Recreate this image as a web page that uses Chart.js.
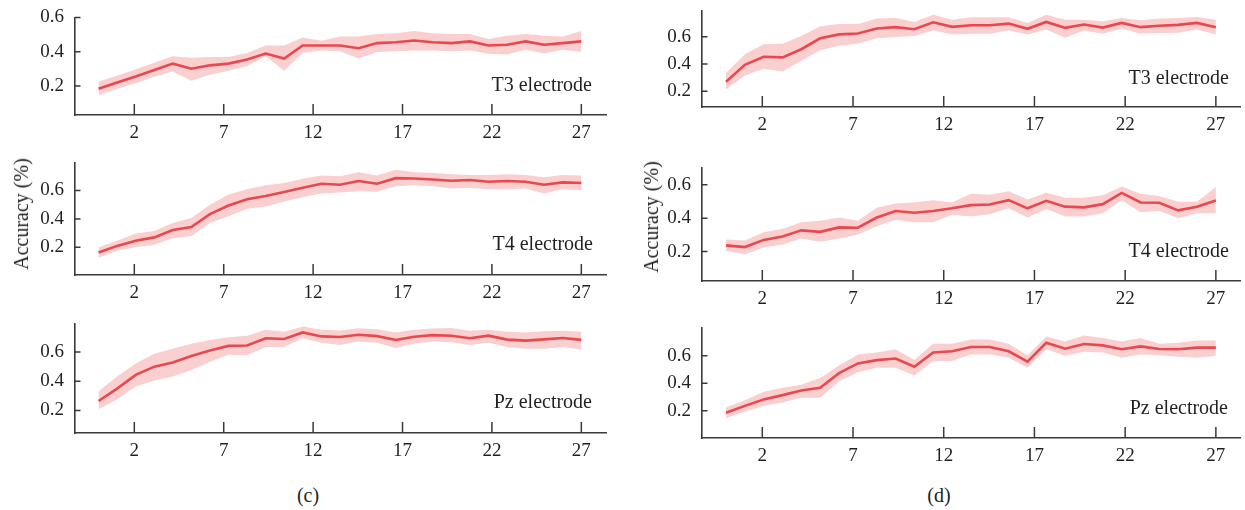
<!DOCTYPE html>
<html><head><meta charset="utf-8">
<script src="https://cdn.jsdelivr.net/npm/chart.js@4.4.1/dist/chart.umd.min.js"></script>
<style>
html,body{margin:0;padding:0;background:#fff;}
body{width:1245px;height:510px;position:relative;overflow:hidden;font-family:"Liberation Serif","Times New Roman",serif;color:#231f20;}
canvas{position:absolute;}
.lbl{position:absolute;font-size:20px;line-height:20px;white-space:nowrap;text-align:right;}
.cap{position:absolute;font-size:20px;line-height:20px;white-space:nowrap;transform:translateX(-50%);}
.ylab{position:absolute;font-size:20px;line-height:20px;white-space:nowrap;transform:translate(-50%,-50%) rotate(-90deg);}
</style></head><body>
<script>
// ---- data ----
const xTickValues = [2, 7, 12, 17, 22, 27];
const yTickValues = [0.2, 0.4, 0.6];
const epochX = [0, 1.04, 2.08, 3.12, 4.15, 5.19, 6.23, 7.27, 8.31, 9.35, 10.38, 11.42, 12.46, 13.5, 14.54, 15.58, 16.62, 17.65, 18.69, 19.73, 20.77, 21.81, 22.85, 23.88, 24.92, 25.96, 27];

const cT3Mean  = [0.183,0.22,0.255,0.293,0.33,0.30,0.32,0.33,0.354,0.389,0.36,0.436,0.436,0.436,0.42,0.45,0.455,0.465,0.455,0.45,0.46,0.436,0.44,0.46,0.44,0.45,0.46];
const cT3Upper = [0.225,0.259,0.297,0.335,0.373,0.364,0.368,0.368,0.392,0.436,0.436,0.482,0.463,0.488,0.488,0.503,0.507,0.52,0.507,0.503,0.503,0.474,0.493,0.503,0.493,0.488,0.52];
const cT3Lower = [0.145,0.183,0.215,0.253,0.284,0.23,0.265,0.288,0.316,0.373,0.288,0.392,0.406,0.402,0.36,0.398,0.402,0.406,0.406,0.402,0.406,0.387,0.383,0.411,0.389,0.411,0.398];

const cT4Mean  = [0.163,0.21,0.246,0.27,0.322,0.343,0.434,0.494,0.538,0.561,0.59,0.62,0.648,0.641,0.667,0.648,0.687,0.685,0.678,0.669,0.674,0.662,0.667,0.662,0.641,0.657,0.653];
const cT4Upper = [0.2,0.246,0.297,0.315,0.372,0.407,0.499,0.572,0.609,0.637,0.653,0.683,0.706,0.701,0.729,0.706,0.747,0.729,0.724,0.715,0.71,0.71,0.715,0.71,0.694,0.71,0.706];
const cT4Lower = [0.126,0.177,0.2,0.218,0.264,0.28,0.372,0.418,0.471,0.487,0.522,0.552,0.579,0.586,0.595,0.591,0.63,0.637,0.63,0.614,0.618,0.609,0.609,0.614,0.579,0.609,0.602];

const cPzMean  = [0.265,0.35,0.444,0.5,0.528,0.573,0.611,0.642,0.645,0.694,0.689,0.734,0.707,0.703,0.718,0.709,0.683,0.705,0.716,0.712,0.694,0.712,0.685,0.678,0.687,0.696,0.683];
const cPzUpper = [0.332,0.432,0.522,0.589,0.622,0.656,0.683,0.701,0.712,0.752,0.739,0.774,0.752,0.747,0.763,0.756,0.734,0.752,0.761,0.765,0.745,0.752,0.739,0.734,0.743,0.745,0.739];
const cPzLower = [0.209,0.276,0.365,0.406,0.432,0.477,0.533,0.582,0.578,0.634,0.634,0.694,0.663,0.649,0.672,0.663,0.627,0.656,0.672,0.667,0.649,0.663,0.634,0.622,0.622,0.634,0.618];

const dT3Mean  = [0.27,0.393,0.453,0.448,0.508,0.588,0.617,0.624,0.66,0.67,0.655,0.706,0.672,0.684,0.684,0.696,0.658,0.708,0.665,0.689,0.667,0.701,0.67,0.68,0.687,0.701,0.67];
const dT3Upper = [0.333,0.472,0.545,0.549,0.605,0.677,0.694,0.694,0.733,0.737,0.708,0.761,0.725,0.742,0.742,0.742,0.701,0.761,0.725,0.725,0.713,0.737,0.72,0.733,0.737,0.745,0.725];
const dT3Lower = [0.212,0.316,0.364,0.345,0.424,0.501,0.533,0.549,0.588,0.598,0.605,0.646,0.617,0.622,0.622,0.646,0.617,0.653,0.593,0.646,0.622,0.66,0.622,0.627,0.629,0.653,0.617];

const dT4Mean  = [0.237,0.227,0.27,0.29,0.327,0.318,0.345,0.343,0.404,0.443,0.433,0.443,0.459,0.478,0.482,0.508,0.459,0.504,0.469,0.465,0.484,0.551,0.494,0.492,0.447,0.469,0.506];
const dT4Upper = [0.273,0.267,0.316,0.337,0.376,0.384,0.404,0.384,0.463,0.488,0.494,0.508,0.494,0.547,0.541,0.561,0.512,0.553,0.522,0.522,0.537,0.59,0.547,0.533,0.498,0.498,0.586];
const dT4Lower = [0.204,0.184,0.224,0.243,0.278,0.259,0.278,0.302,0.351,0.39,0.376,0.376,0.42,0.41,0.424,0.459,0.404,0.455,0.41,0.41,0.429,0.508,0.435,0.443,0.4,0.429,0.429];

const dPzMean  = [0.186,0.236,0.283,0.314,0.348,0.367,0.474,0.545,0.569,0.581,0.521,0.624,0.633,0.664,0.664,0.633,0.557,0.695,0.652,0.686,0.676,0.648,0.669,0.65,0.648,0.66,0.66];
const dPzUpper = [0.224,0.276,0.338,0.367,0.39,0.438,0.529,0.61,0.624,0.648,0.569,0.688,0.688,0.719,0.719,0.688,0.605,0.74,0.705,0.748,0.729,0.705,0.729,0.688,0.695,0.712,0.712];
const dPzLower = [0.148,0.195,0.236,0.26,0.295,0.295,0.414,0.481,0.514,0.514,0.457,0.562,0.562,0.61,0.61,0.586,0.514,0.648,0.6,0.629,0.624,0.586,0.61,0.605,0.593,0.586,0.6];

// ---- styles / layout ----
const LINE = '#e9484e';
const BAND = 'rgba(242,122,126,0.36)';
const AXIS = '#3a3a3a';
const TXT = '#231f20';
const FONT = "'Liberation Serif','Times New Roman',serif";

const panels = [
  {mean:cT3Mean, up:cT3Upper, lo:cT3Lower, L:75, R:606, T:15, B:115, ymin:0.03, ymax:0.6, xmin:-1.317, xmax:28.38, label:'T3 electrode', lr:592, lt:74},
  {mean:cT4Mean, up:cT4Upper, lo:cT4Lower, L:75, R:606, T:160, B:275, ymin:0.005, ymax:0.798, xmin:-1.317, xmax:28.38, label:'T4 electrode', lr:593, lt:233},
  {mean:cPzMean, up:cPzUpper, lo:cPzLower, L:75, R:606, T:321, B:433, ymin:0.046, ymax:0.796, xmin:-1.317, xmax:28.38, label:'Pz electrode', lr:592, lt:391},
  {mean:dT3Mean, up:dT3Upper, lo:dT3Lower, L:702, R:1240, T:8, B:107, ymin:0.084, ymax:0.793, xmin:-1.324, xmax:28.33, label:'T3 electrode', lr:1229, lt:67},
  {mean:dT4Mean, up:dT4Upper, lo:dT4Lower, L:702, R:1240, T:165, B:281, ymin:0.024, ymax:0.704, xmin:-1.324, xmax:28.33, label:'T4 electrode', lr:1229, lt:240},
  {mean:dPzMean, up:dPzUpper, lo:dPzLower, L:702, R:1240, T:325, B:438, ymin:0.002, ymax:0.807, xmin:-1.324, xmax:28.33, label:'Pz electrode', lr:1228, lt:397}
];

const PADL = 70, PADT = 20, PADR = 10, PADB = 40;

const inwardTicks = {
  id: 'inwardTicks',
  afterDraw(chart) {
    const {ctx, chartArea: a, scales: {x, y}} = chart;
    ctx.save();
    ctx.strokeStyle = AXIS;
    ctx.lineWidth = 1.5;
    ctx.beginPath();
    x.ticks.forEach(t => {
      const px = x.getPixelForValue(t.value);
      ctx.moveTo(px, a.bottom); ctx.lineTo(px, a.bottom - 11);
    });
    y.ticks.forEach(t => {
      const py = y.getPixelForValue(t.value);
      ctx.moveTo(a.left, py); ctx.lineTo(a.left + 5.5, py);
    });
    ctx.stroke();
    ctx.restore();
  }
};

const pts = arr => arr.map((v, i) => ({x: epochX[i], y: v}));

panels.forEach(p => {
  const cv = document.createElement('canvas');
  const w = (p.R - p.L) + PADL + PADR;
  const h = (p.B - p.T) + PADT + PADB;
  cv.width = w; cv.height = h;
  cv.style.width = w + 'px'; cv.style.height = h + 'px';
  cv.style.left = (p.L - PADL) + 'px';
  cv.style.top = (p.T - PADT) + 'px';
  document.body.appendChild(cv);

  new Chart(cv.getContext('2d'), {
    type: 'line',
    data: {
      datasets: [
        {data: pts(p.mean), borderColor: LINE, borderWidth: 2.6, pointRadius: 0, tension: 0, fill: false, order: 0},
        {data: pts(p.lo), borderColor: 'rgba(0,0,0,0)', borderWidth: 0, pointRadius: 0, tension: 0, fill: false, order: 1},
        {data: pts(p.up), borderColor: 'rgba(0,0,0,0)', borderWidth: 0, pointRadius: 0, tension: 0, fill: 1, backgroundColor: BAND, order: 2}
      ]
    },
    options: {
      responsive: false,
      animation: false,
      devicePixelRatio: 1,
      layout: {padding: {left: 0, top: PADT, right: PADR, bottom: 0}},
      plugins: {legend: {display: false}, tooltip: {enabled: false}},
      scales: {
        x: {
          type: 'linear', min: p.xmin, max: p.xmax,
          grid: {display: false, drawTicks: false},
          border: {display: true, color: AXIS, width: 1.6},
          afterBuildTicks: s => { s.ticks = xTickValues.map(v => ({value: v})); },
          afterFit: s => { s.height = PADB; },
          ticks: {color: TXT, font: {family: FONT, size: 19, lineHeight: 1.2}, padding: 7, maxRotation: 0, autoSkip: false, callback: v => String(v)}
        },
        y: {
          type: 'linear', min: p.ymin, max: p.ymax,
          grid: {display: false, drawTicks: false},
          border: {display: true, color: AXIS, width: 1.6},
          afterBuildTicks: s => { s.ticks = yTickValues.map(v => ({value: v})); },
          afterFit: s => { s.width = PADL; },
          ticks: {color: TXT, font: {family: FONT, size: 19, lineHeight: 1.2}, padding: 11, autoSkip: false, callback: v => Number(v).toFixed(1)}
        }
      }
    },
    plugins: [inwardTicks]
  });

  const d = document.createElement('div');
  d.className = 'lbl';
  d.textContent = p.label;
  d.style.right = (1245 - p.lr) + 'px';
  d.style.top = p.lt + 'px';
  document.body.appendChild(d);
});

[['Accuracy (%)', 21, 214], ['Accuracy (%)', 651, 217]].forEach(([t, x, y]) => {
  const d = document.createElement('div');
  d.className = 'ylab'; d.textContent = t;
  d.style.left = x + 'px'; d.style.top = y + 'px';
  document.body.appendChild(d);
});
[['(c)', 308, 485], ['(d)', 939, 485]].forEach(([t, x, y]) => {
  const d = document.createElement('div');
  d.className = 'cap'; d.textContent = t;
  d.style.left = x + 'px'; d.style.top = y + 'px';
  document.body.appendChild(d);
});
</script>
</body></html>
